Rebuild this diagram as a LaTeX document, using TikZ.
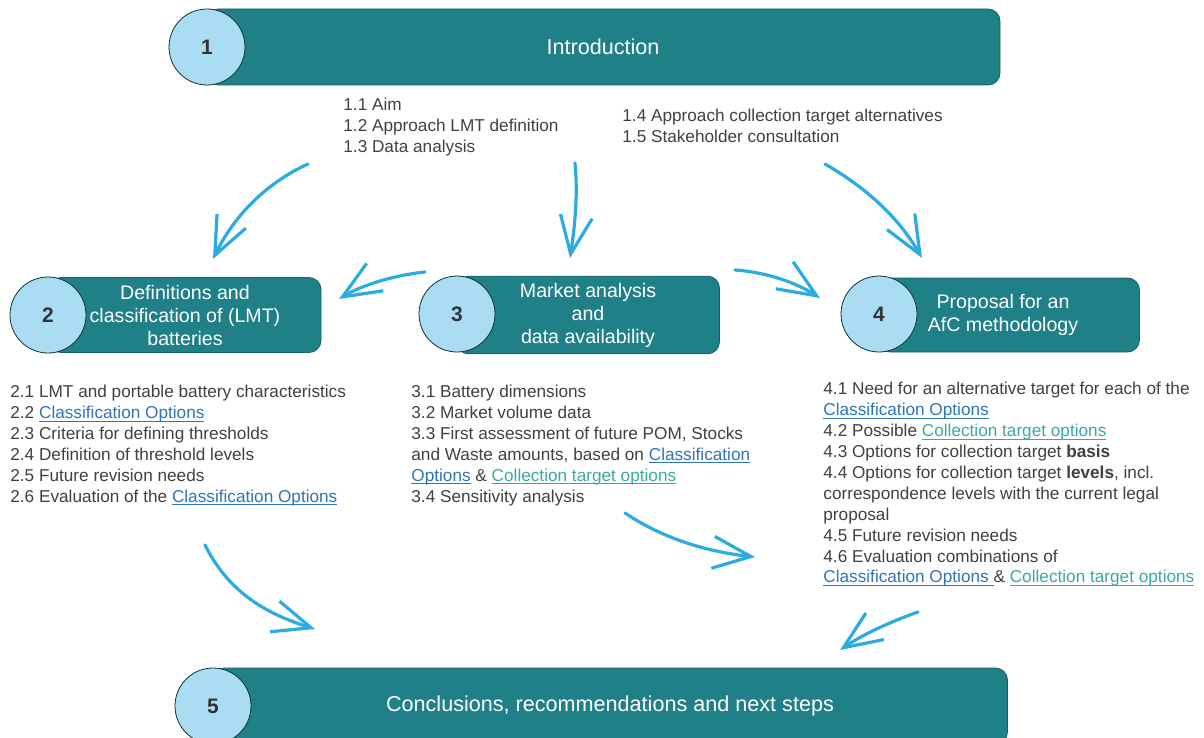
\documentclass[tikz,border=0pt]{standalone}
\usepackage{fontspec}
\setmainfont{Liberation Sans}
\usetikzlibrary{arrows.meta}

\definecolor{boxteal}{HTML}{1F8087}
\definecolor{ringblue}{HTML}{AADDF3}
\definecolor{arrowblue}{HTML}{2AACE2}
\definecolor{itemgray}{HTML}{404040}
\definecolor{linkblue}{HTML}{2F74B5}
\definecolor{linkteal}{HTML}{3AA8A4}

% underline close to the baseline
\newsavebox{\ulsave}
\newcommand{\ulbox}[1]{\sbox{\ulsave}{#1}\rlap{\rule[-1.4pt]{\wd\ulsave}{0.45pt}}\usebox{\ulsave}}
\newcommand{\lnkb}[1]{\textcolor{linkblue}{\ulbox{#1}}}
\newcommand{\lnkt}[1]{\textcolor{linkteal}{\ulbox{#1}}}

\tikzset{
	stagebox/.style={draw=boxteal!75!black, fill=boxteal, rounded corners=6pt, text=white, align=center, font=\fontsize{9.8}{11.5}\selectfont},
	stagenum/.style={circle, draw=boxteal!40!black, fill=ringblue, minimum size=38pt, inner sep=0pt, text=black!80, font=\bfseries\fontsize{10.5}{12}\selectfont},
	itemlist/.style={anchor=north west, align=left, inner sep=0pt, text=itemgray, font=\fontsize{8.6}{10.45}\selectfont},
	flow/.style={arrowblue, line width=1.6pt, line cap=round, -{Straight Barb[length=19pt, width=16pt, line width=1.6pt]}}
}

\begin{document}
\begin{tikzpicture}[x=0.5pt, y=-0.5pt]
	\useasboundingbox (0,0) rectangle (1204,738);

	% stage boxes, the number sits on the left end
	\node[stagebox, minimum width=397pt, minimum height=38pt, font=\fontsize{10.8}{13}\selectfont] (intro) at (603,47) {Introduction};
	\node[stagenum] (n1) at (207,47) {1};

	\node[stagebox, minimum width=136pt, minimum height=37.5pt] (defs) at (185,315) {Definitions and\\classification of (LMT)\\batteries};
	\node[stagenum] (n2) at (48,315) {2};

	\node[stagebox, minimum width=131.5pt, minimum height=37pt] (market) at (588,315) {Market analysis\\and\\data availability};
	\node[stagenum] (n3) at (457,314) {3};

	\node[stagebox, minimum width=130.5pt, minimum height=37pt] (afc) at (1009,315) {\hspace*{-6pt}Proposal for an\\\hspace*{-6pt}AfC methodology};
	\node[stagenum] (n4) at (879,314) {4};

	\node[stagebox, minimum width=397.5pt, minimum height=38pt, font=\fontsize{10.8}{13}\selectfont] (concl) at (610,706) {Conclusions, recommendations and next steps};
	\node[stagenum] (n5) at (213,706) {5};

	% chapter contents
	\node[itemlist] (intro-a) at (343,98) {1.1 Aim\\1.2 Approach LMT definition\\1.3 Data analysis};
	\node[itemlist] (intro-b) at (622,109) {1.4 Approach collection target alternatives\\1.5 Stakeholder consultation};

	\node[itemlist] (defs-list) at (10,385) {2.1 LMT and portable battery characteristics\\
		2.2 \lnkb{Classification Options}\\
		2.3 Criteria for defining thresholds\\
		2.4 Definition of threshold levels\\
		2.5 Future revision needs\\
		2.6 Evaluation of the \lnkb{Classification Options}};

	\node[itemlist] (market-list) at (411,385) {3.1 Battery dimensions\\
		3.2 Market volume data\\
		3.3 First assessment of future POM, Stocks\\
		and Waste amounts, based on \lnkb{Classification}\\
		\lnkb{Options} \& \lnkt{Collection target options}\\
		3.4 Sensitivity analysis};

	\node[itemlist] (afc-list) at (823,382) {4.1 Need for an alternative target for each of the\\
		\lnkb{Classification Options}\\
		4.2 Possible \lnkt{Collection target options}\\
		4.3 Options for collection target \textbf{basis}\\
		4.4 Options for collection target \textbf{levels}, incl.\\
		correspondence levels with the current legal\\
		proposal\\
		4.5 Future revision needs\\
		4.6 Evaluation combinations of\\
		\lnkb{Classification Options\ }\& \lnkt{Collection target options}};

	% arrow ends
	\coordinate (a1s) at (308,164);  \coordinate (a1e) at (213,259);
	\coordinate (a2s) at (575,163);  \coordinate (a2e) at (570,258);
	\coordinate (a3s) at (825,164);  \coordinate (a3e) at (922,258);
	\coordinate (a4s) at (425,272);  \coordinate (a4e) at (339,299);
	\coordinate (a5s) at (735,270);  \coordinate (a5e) at (820,298);
	\coordinate (a6s) at (205,545);  \coordinate (a6e) at (315,629);
	\coordinate (a7s) at (625,513);  \coordinate (a7e) at (755,557);
	\coordinate (a8s) at (918,612);  \coordinate (a8e) at (840,650);

	\draw[flow] (a1s) .. controls (262,185) and (232,220) .. (a1e);
	\draw[flow] (a2s) .. controls (578,195) and (575,225) .. (a2e);
	\draw[flow] (a3s) .. controls (870,190) and (900,220) .. (a3e);
	\draw[flow] (a4s) .. controls (395,275) and (362,285) .. (a4e);
	\draw[flow] (a5s) .. controls (765,272) and (795,282) .. (a5e);
	\draw[flow] (a6s) .. controls (230,595) and (270,615) .. (a6e);
	\draw[flow] (a7s) .. controls (665,540) and (710,552) .. (a7e);
	\draw[flow] (a8s) .. controls (895,620) and (865,633) .. (a8e);
\end{tikzpicture}
\end{document}
